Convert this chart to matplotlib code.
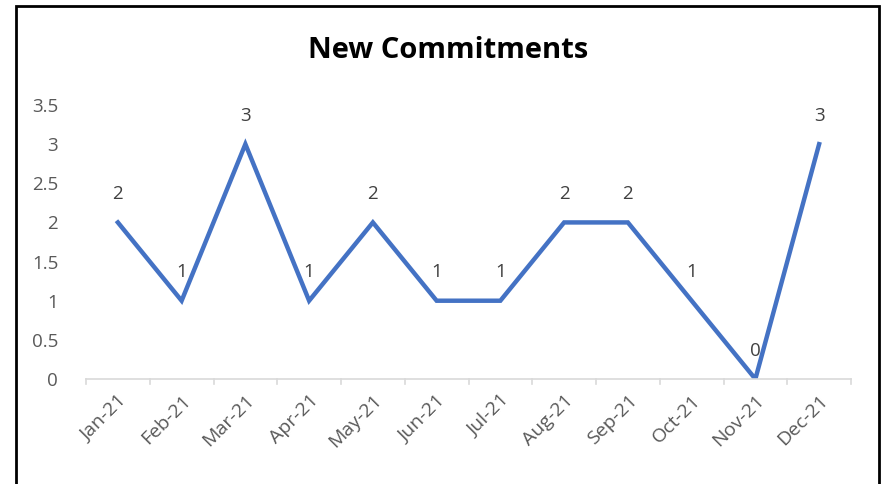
import matplotlib.pyplot as plt
from matplotlib.patches import Rectangle

months = ["Jan-21", "Feb-21", "Mar-21", "Apr-21", "May-21", "Jun-21",
          "Jul-21", "Aug-21", "Sep-21", "Oct-21", "Nov-21", "Dec-21"]
commitments = [2, 1, 3, 1, 2, 1, 1, 2, 2, 1, 0, 3]
yTicks = [0, 0.5, 1, 1.5, 2, 2.5, 3, 3.5]
yTickLabels = ["0", "0.5", "1", "1.5", "2", "2.5", "3", "3.5"]

plt.rcParams["font.family"] = ["Open Sans", "DejaVu Sans"]

W, H = 888, 484
fig = plt.figure(figsize=(W / 100, H / 100), dpi=100)

# axes box in pixel coords: x 86..851, y 105..379
ax = fig.add_axes([86 / W, 1 - 379 / H, (851 - 86) / W, (379 - 105) / H])

x = list(range(len(months)))
ax.plot(x, commitments, color="#4472C4", linewidth=3.2, solid_joinstyle="miter")
for xi, v in zip(x, commitments):
    ax.annotate(str(v), (xi, v), xytext=(0, 14), textcoords="offset points",
                ha="center", va="bottom", fontsize=13.5, color="#404040")

ax.set_xlim(-0.5, len(months) - 0.5)
ax.set_ylim(0, 3.5)
ax.set_yticks(yTicks)
ax.set_yticklabels(yTickLabels, fontsize=13.5, color="#595959")
ax.tick_params(axis="y", length=0, pad=20)

ax.set_xticks(x)
ax.set_xticklabels(months, rotation=45, ha="right", rotation_mode="anchor",
                   fontsize=14, color="#595959")
ax.tick_params(axis="x", length=0, pad=9)
for b in [i - 0.5 for i in range(len(months) + 1)]:
    ax.plot([b, b], [0, -0.07], color="#d9d9d9", linewidth=1.2, clip_on=False)

for side in ["top", "right", "left"]:
    ax.spines[side].set_visible(False)
ax.spines["bottom"].set_color("#d9d9d9")
ax.spines["bottom"].set_linewidth(1.2)

fig.text(448 / W, 1 - 51 / H, "New Commitments", ha="center", va="center",
         fontsize=21, fontweight="bold", color="black")

fig.patches.append(Rectangle((16 / W, -0.05), (879 - 16) / W, 1 - 6 / H + 0.05,
                             transform=fig.transFigure, fill=False,
                             edgecolor="black", linewidth=2))

fig.savefig("out.png", dpi=100)
